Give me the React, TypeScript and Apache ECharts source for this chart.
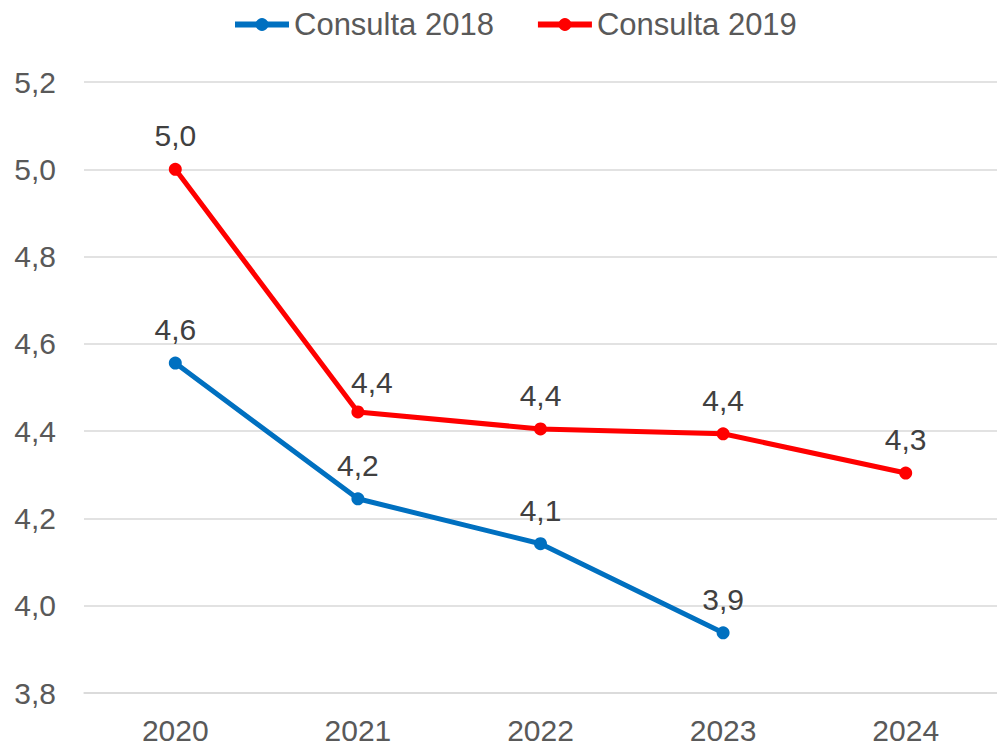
import React, { useEffect, useRef } from "react";
import * as echarts from "echarts";

const years = ["2020", "2021", "2022", "2023", "2024"];
const consulta2018 = [4.556, 4.245, 4.142, 3.938, null];
const consulta2019 = [5.0, 4.444, 4.405, 4.394, 4.304];
const yTicks = { min: 3.8, max: 5.2, interval: 0.2 };

const FONT = "'Liberation Sans', Arial, Helvetica, sans-serif";

export default function App() {
  const ref = useRef<HTMLDivElement>(null);
  useEffect(() => {
    if (!ref.current) return;
    const chart = echarts.init(ref.current, undefined, { renderer: "svg" });
    const fmt = (v: number) => v.toFixed(1).replace(".", ",");
    const mk = (
      name: string,
      data: (number | null)[],
      color: string,
      offsets: Record<number, number[]> = {}
    ) => ({
      name,
      type: "line",
      data: data.map((v, i) =>
        offsets[i] ? { value: v, label: { offset: offsets[i] } } : v
      ),
      symbol: "circle",
      symbolSize: 13,
      lineStyle: { width: 5, color },
      itemStyle: { color },
      label: {
        show: true,
        position: "top",
        distance: 12,
        fontSize: 30,
        fontFamily: FONT,
        color: "#404040",
        formatter: (p: any) => fmt(p.value),
      },
    });
    chart.setOption({
      animation: false,
      textStyle: { fontFamily: FONT },
      legend: {
        top: 4,
        left: 227,
        itemWidth: 54,
        itemHeight: 16,
        itemGap: 41,
        lineStyle: { width: 6 },
        textStyle: { fontSize: 31, color: "#595959", fontFamily: FONT },
        data: ["Consulta 2018", "Consulta 2019"],
      },
      grid: { left: 84, right: -1, top: 82, bottom: 54, containLabel: false },
      xAxis: {
        type: "category",
        data: years,
        boundaryGap: true,
        axisLine: { show: true, lineStyle: { color: "#d9d9d9", width: 1.5 } },
        axisTick: { show: false },
        axisLabel: { fontSize: 30, color: "#595959", margin: 22, fontFamily: FONT },
      },
      yAxis: {
        type: "value",
        min: yTicks.min,
        max: yTicks.max,
        interval: yTicks.interval,
        axisLine: { show: false },
        axisTick: { show: false },
        splitLine: { lineStyle: { color: "#d9d9d9", width: 1.5 } },
        axisLabel: {
          fontSize: 30,
          color: "#595959",
          margin: 28,
          fontFamily: FONT,
          formatter: (v: number) => fmt(v),
        },
      },
      series: [
        mk("Consulta 2018", consulta2018, "#0070C0"),
        mk("Consulta 2019", consulta2019, "#FF0000", { 1: [14, 4] }),
      ],
    });
    return () => chart.dispose();
  }, []);
  return <div ref={ref} style={{ width: 997, height: 747, position: "absolute", left: 0, top: 0 }} />;
}
